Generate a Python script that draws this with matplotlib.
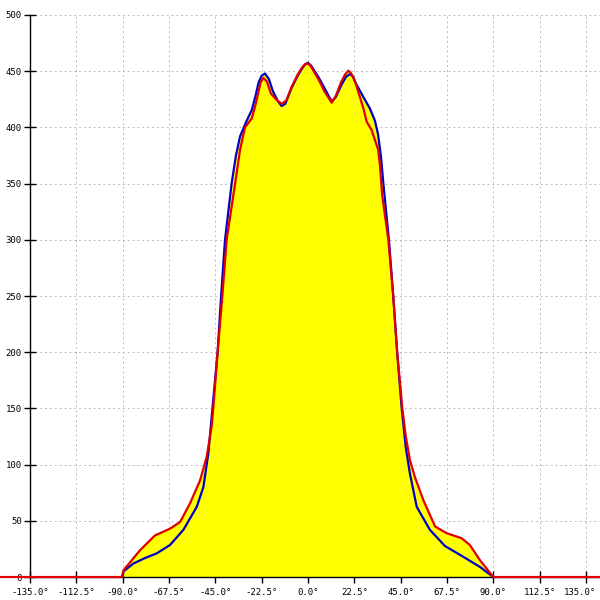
import matplotlib
matplotlib.use("Agg")
import matplotlib.pyplot as plt
from matplotlib.transforms import ScaledTranslation

# Blue series (angle in degrees, value)
blue_angle = [-90, -89.6, -84.8, -79, -73.5, -67, -60.5, -54, -50.8, -48.4, -46.4,
              -43.9, -42.2, -40.3, -37.1, -35, -33, -30, -27.3, -25.5, -24, -22.5,
              -20.9, -19, -17, -14.5, -12.8, -11, -8, -5, -3, -1.5, 0, 1.5, 5, 8,
              11.5, 13.5, 16, 18.5, 20.4, 22, 23, 26.9, 30, 32.5, 34, 35.5, 36.6,
              39.3, 41.4, 43.3, 45.5, 47.5, 49.5, 52.8, 59.2, 66.5, 75.4, 83.5, 90]
blue_value = [0, 5, 12, 17, 21, 28.5, 42, 62.5, 80, 110, 150,
              200, 250, 300, 350, 375, 392, 405, 415.5, 428, 440, 446,
              448, 443, 432, 423, 419, 421, 435, 446, 452, 456, 457.5, 455, 445, 435,
              423, 427, 437, 445, 447.5, 445, 440, 427, 417, 406, 394, 373, 350,
              300, 250, 200, 150, 115, 92, 62.5, 42, 27.6, 18, 9, 0]

# Red series
red_angle = [-150, -90.4, -89.6, -81.5, -74.3, -67, -62.1, -57.3, -52.4, -49.2, -46.8,
             -46, -43.9, -41.6, -39.5, -35.4, -33, -30.6, -27.3, -25.5, -24, -23,
             -21.7, -20, -18, -15, -12.8, -10.5, -8, -5, -3, -1.5, 0, 1.5, 5, 8,
             11.5, 13.5, 16, 18, 19.6, 21, 23, 26.9, 28.5, 30.9, 34.1, 35, 36, 39,
             41.4, 43.3, 45.8, 47.5, 49.5, 51.9, 56, 61.7, 67.3, 74.6, 78.6, 83.5, 90, 150]
red_value = [0, 0, 6, 24, 37, 43, 49, 65.5, 86, 107, 134,
             150, 200, 250, 300, 350, 380, 400, 408, 420, 432, 440,
             444, 441, 430, 424, 421, 424, 436, 447, 453, 456, 457, 454, 443, 432,
             422, 428, 440, 447, 450.5, 448, 440, 417, 405, 397.7, 380, 365, 340, 300,
             250, 200, 150, 125, 104, 89, 68.5, 45, 39, 34.5, 28.5, 15, 0, 0]

x_ticks = [-135, -112.5, -90, -67.5, -45, -22.5, 0, 22.5, 45, 67.5, 90, 112.5, 135]
y_ticks = [0, 50, 100, 150, 200, 250, 300, 350, 400, 450, 500]

fig = plt.figure(figsize=(6, 6), dpi=100)
ax = fig.add_axes([0.05, 0.0383, 0.95, 0.9367])

ax.fill_between(blue_angle, 0, blue_value, color="#ffff00", lw=0, zorder=1)
ax.fill_between(red_angle, 0, red_value, color="#ffff00", lw=0, zorder=1)
ax.plot(blue_angle, blue_value, color="#0000c8", lw=1.6, zorder=3)
ax.plot(red_angle, red_value, color="#e00000", lw=1.6, zorder=4, clip_on=False)

ax.set_xlim(-135, 141.8)
ax.set_ylim(0, 500)
ax.set_xticks(x_ticks)
ax.set_xticklabels([f"{t:.1f}°" for t in x_ticks])
ax.set_yticks(y_ticks)
ax.set_yticklabels([str(t) for t in y_ticks])

ax.grid(True, color="#bbbbbb", linestyle=(0, (2, 3)), linewidth=0.7, zorder=0)
ax.set_axisbelow(True)
for s in ["top", "right"]:
    ax.spines[s].set_visible(False)
ax.spines["left"].set_linewidth(1.0)
ax.spines["bottom"].set_linewidth(1.0)
ax.spines["left"].set_zorder(2)
ax.spines["bottom"].set_zorder(2)

ax.tick_params(axis="both", direction="inout", length=8, width=1.0, labelsize=6.5)
ax.tick_params(axis="x", pad=4)
ax.tick_params(axis="y", pad=2)
for lbl in ax.get_xticklabels() + ax.get_yticklabels():
    lbl.set_fontfamily("DejaVu Sans Mono")

last = ax.get_xticklabels()[-1]
last.set_transform(last.get_transform() + ScaledTranslation(-4 / 72, 0, fig.dpi_scale_trans))

fig.savefig("out.png", dpi=100)
